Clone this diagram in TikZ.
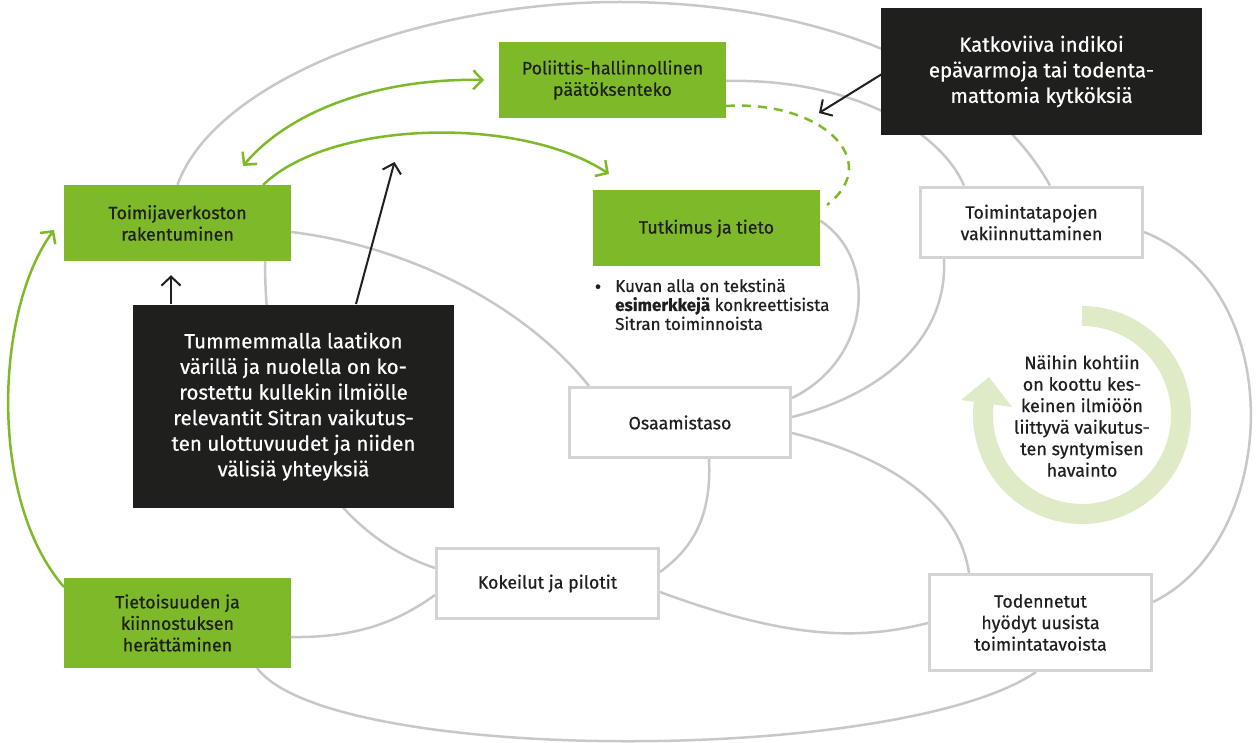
\documentclass[tikz,border=0pt]{standalone}
\usepackage{fontspec}
\setmainfont{Fira Sans}[RawFeature={embolden=0.6}]
\usetikzlibrary{arrows.meta,calc}
\definecolor{sgreen}{RGB}{125,185,41}
\definecolor{sdark}{RGB}{31,31,30}
\definecolor{sgray}{RGB}{200,200,200}
\definecolor{sbord}{RGB}{212,212,212}
\definecolor{slight}{RGB}{223,234,198}
\pgfdeclarelayer{bg}
\pgfsetlayers{bg,main}
\begin{document}
\begin{tikzpicture}[x=1pt,y=-1pt,
 greenbox/.style={fill=sgreen, text=sdark, minimum width=227pt, minimum height=76pt, inner sep=0pt, align=center, font=\fontsize{17.8}{21.5}\selectfont},
 whitebox/.style={fill=white, draw=sbord, line width=3pt, text=sdark, minimum width=222pt, minimum height=70pt, inner sep=0pt, align=center, font=\fontsize{17.8}{21.5}\selectfont},
 darkbox/.style={fill=sdark, text=white, minimum width=321pt, inner sep=0pt, align=center, font=\fontsize{20.5}{25.6}\selectfont},
 link/.style={draw=sgray, line width=2.5pt},
 garrow/.style={draw=sgreen, line width=2.5pt},
 barrow/.style={draw=sdark, line width=2pt, -{Straight Barb[length=9pt,width=19pt]}},
]
\useasboundingbox (0,0) rectangle (1256,743);

% nodes
\node[greenbox] (pol) at (612.5,80) {Poliittis-hallinnollinen\\päätöksenteko};
\node[greenbox] (toim) at (177.5,223) {Toimijaverkoston\\rakentuminen};
\node[greenbox] (tutk) at (706.5,228.5) {Tutkimus ja tieto};
\node[greenbox, minimum height=90pt] (tiet) at (177.5,623) {Tietoisuuden ja\\kiinnostuksen\\herättäminen};
\node[whitebox] (vak) at (1031.5,222.5) {Toimintatapojen\\vakiinnuttaminen};
\node[whitebox, minimum width=221pt] (osa) at (680,422.5) {Osaamistaso};
\node[whitebox] (kok) at (547.5,583.5) {Kokeilut ja pilotit};
\node[whitebox, minimum height=96pt] (tod) at (1040.5,622.5) {Todennetut\\hyödyt uusista\\toimintatavoista};
\node[darkbox, minimum height=203pt] (dark1) at (293.5,406.5) {Tummemmalla laatikon\\värillä ja nuolella on ko-\\rostettu kullekin ilmiölle\\relevantit Sitran vaikutus-\\ten ulottuvuudet ja niiden\\välisiä yhteyksiä};
\node[darkbox, minimum height=127pt] (dark2) at (1041.5,71.5) {Katkoviiva indikoi\\epävarmoja tai todenta-\\mattomia kytköksiä};

\node[inner sep=0pt, text=sdark, font=\fontsize{20}{20}\selectfont] (bul) at (598,289) {\textbullet};
\node[anchor=north west, inner sep=0pt, align=left, text=sdark, font=\fontsize{17}{19}\selectfont] (ex) at (615,278.5) {Kuvan alla on tekstinä\\\textbf{esimerkkejä} konkreettisista\\Sitran toiminnoista};

% circular arrow
\draw[slight, line width=20pt] plot[domain=-188:90, samples=100] ({1082+99*cos(\x)},{415-99*sin(\x)});
\fill[slight] (989,377) -- (961,400) -- (1012,407) -- cycle;
\node[align=center, text=sdark, font=\fontsize{18}{21.5}\selectfont] (ctext) at (1082,416) {Näihin kohtiin\\on koottu kes-\\keinen ilmiöön\\liittyvä vaikutus-\\ten syntymisen\\havainto};

% grey links
\begin{pgfonlayer}{bg}
\draw[link] (toim.north) .. controls (215,80) and (420,2) .. (620,2) .. controls (800,2) and (980,60) .. ($(vak.center)+(18.5,-37)$);
\draw[link] ($(pol.center)+(113.5,1)$) .. controls (850,78) and (940,130) .. ($(vak.center)+(-67.5,-37)$);
\draw[link] ($(tutk.center)+(113.5,-8)$) .. controls (880,260) and (870,360) .. ($(osa.center)+(112,-24.5)$);
\draw[link] ($(vak.center)+(-87.5,36.5)$) .. controls (948,340) and (880,395) .. ($(osa.center)+(112,-5.5)$);
\draw[link] ($(vak.center)+(112.5,9.5)$) .. controls (1290,290) and (1280,540) .. ($(tod.center)+(112.5,-20.5)$);
\draw[link] ($(toim.center)+(113.5,9)$) .. controls (400,245) and (520,300) .. ($(osa.center)+(-91,-36.5)$);
\draw[link] ($(toim.center)+(87.5,38)$) .. controls (265,450) and (350,540) .. ($(kok.center)+(-112.5,-15.5)$);
\draw[link] ($(osa.center)+(29,36.5)$) .. controls (712,520) and (690,550) .. ($(kok.center)+(112.5,-11.5)$);
\draw[link] ($(osa.center)+(112,10.5)$) .. controls (900,460) and (960,510) .. ($(tod.center)+(-71.5,-49.5)$);
\draw[link] ($(kok.center)+(112.5,8.5)$) .. controls (790,640) and (860,640) .. ($(tod.center)+(-112.5,0.5)$);
\draw[link] ($(tiet.center)+(113.5,14)$) .. controls (360,638) and (400,620) .. ($(kok.center)+(-112.5,11.5)$);
\draw[link] ($(tiet.center)+(79.5,45)$) .. controls (330,765) and (900,765) .. ($(tod.center)+(-4.5,49.5)$);
\draw[draw=sgreen, line width=2.5pt, dash pattern=on 9pt off 7pt] ($(pol.center)+(113.5,26)$) .. controls (820,100) and (885,160) .. ($(tutk.center)+(120.5,-23.5)$);
\end{pgfonlayer}

% green arrows
\draw[garrow, -{Straight Barb[length=9pt,width=19pt]}] ($(tiet.center)+(-113.5,-36)$) .. controls (-12,500) and (-5,310) .. ($(toim.center)+(-123.5,7)$);
\draw[garrow, {Straight Barb[length=9pt,width=19pt]}-{Straight Barb[length=9pt,width=19pt]}] ($(toim.center)+(65.5,-57)$) .. controls (290,110) and (380,78) .. ($(pol.center)+(-128.5,0)$);
\draw[garrow, -{Straight Barb[length=9pt,width=19pt]}] ($(toim.center)+(85.5,-38)$) .. controls (330,120) and (520,115) .. ($(tutk.center)+(-97.5,-54.5)$);

% black arrows
\coordinate (gtip) at (394.5,162);
\coordinate (dtip) at (819,113);
\draw[barrow] ($(dark1.center)+(-122.5,-102.5)$) -- ($(toim.south)+(-6.5,14)$);
\draw[barrow] ($(dark1.center)+(62.5,-102.5)$) -- (gtip);
\draw[barrow] ($(dark2.center)+(-159.5,2.5)$) -- (dtip);
\end{tikzpicture}
\end{document}
